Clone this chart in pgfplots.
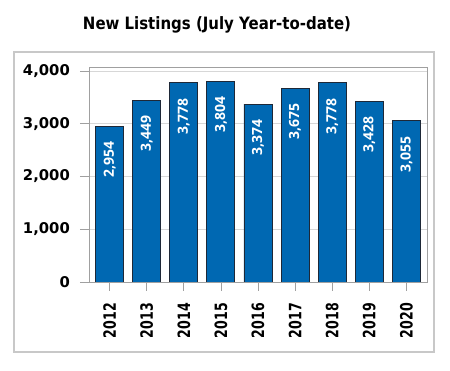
\documentclass[border=0pt]{standalone}
\usepackage{fontspec}
\usepackage{pgfplots}
\pgfplotsset{compat=1.18}
\setmainfont{DejaVu Sans}
\newfontfamily\titlefont[FakeStretch=0.88]{DejaVu Sans}
\newfontfamily\xfont[FakeStretch=0.74]{DejaVu Sans}
\newfontfamily\barfont{Open Sans}
\definecolor{barblue}{RGB}{0,104,178}
\definecolor{baredge}{RGB}{30,40,55}
\definecolor{boxgray}{RGB}{200,200,200}
\definecolor{gridgray}{RGB}{215,215,215}
\definecolor{framegray}{RGB}{160,160,160}
\begin{document}
\begin{tikzpicture}[x=1pt,y=1pt]
\useasboundingbox (0,0) rectangle (450,371);
\draw[boxgray, line width=1.5pt] (14,19) rectangle (434,319);
\node[anchor=base, inner sep=0pt] at (217,341) {\titlefont\bfseries\fontsize{17}{18}\selectfont New Listings (July Year-to-date)};
\begin{axis}[
  at={(89pt,89pt)}, anchor=south west,
  scale only axis, width=338pt, height=215pt,
  xmin=-0.557, xmax=8.557, ymin=0, ymax=4076,
  xtick={0,...,8},
  xticklabels={2012,2013,2014,2015,2016,2017,2018,2019,2020},
  ytick={0,1000,2000,3000,4000},
  /pgf/number format/assume math mode=true,
  /pgf/number format/1000 sep={,},
  ymajorgrids, grid style={gridgray, line width=0.8pt},
  axis line style={framegray, line width=0.8pt},
  tick align=outside, major tick length=9pt,
  tick style={framegray, line width=0.8pt},
  xtick pos=bottom, ytick pos=left,
  yticklabel style={font=\bfseries\fontsize{14.8}{15}\selectfont, inner sep=0pt, xshift=-10pt},
  xticklabel style={font=\xfont\bfseries\fontsize{17}{17}\selectfont, rotate=90, anchor=east, inner sep=0pt, xshift=-12pt},
  ybar, bar width=28pt,
  nodes near coords,
  every node near coord/.append style={font=\barfont\bfseries\fontsize{14}{14}\selectfont, text=white, rotate=90, anchor=east, inner xsep=15pt, inner ysep=0pt},
]
\addplot[fill=barblue, draw=baredge, line width=0.9pt] coordinates {
(0,2954) (1,3449) (2,3778) (3,3804) (4,3374) (5,3675) (6,3778) (7,3428) (8,3055)
};
\end{axis}
\end{tikzpicture}
\end{document}
